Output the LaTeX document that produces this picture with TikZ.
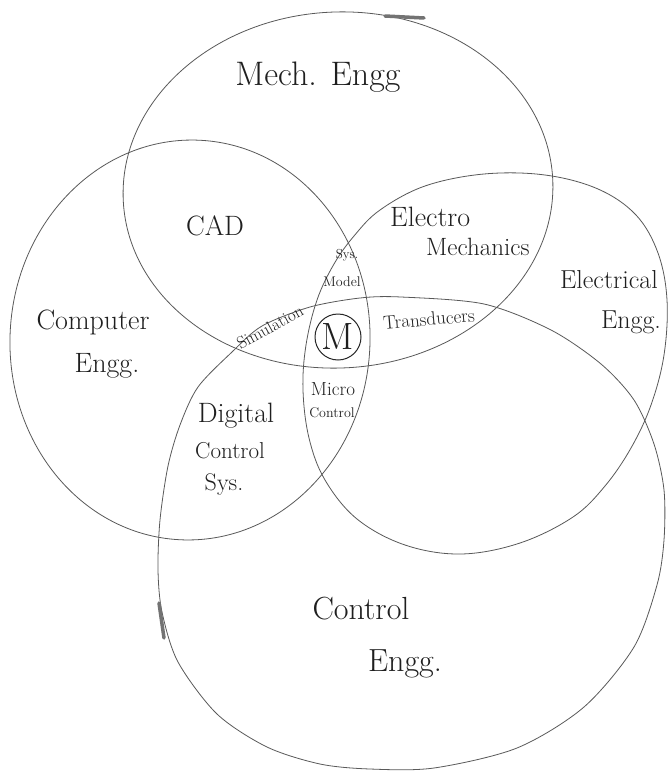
\documentclass[tikz,border=0pt]{standalone}
\usepackage{fontspec}
\newcommand{\lblsize}[1]{\fontsize{#1}{#1}\selectfont}
\tikzset{
  ring/.style={draw=black!65, line width=0.8pt},
  lbl/.style={text=black!88, inner sep=0pt, anchor=center},
  smudge/.style={draw=black!55, line width=3.5pt, line cap=round},
}
\begin{document}
\begin{tikzpicture}[x=1pt,y=-1pt]
\useasboundingbox (0,0) rectangle (668,771);
\fill[white] (0,0) rectangle (668,771);

% Mech. Engg
\draw[ring, rotate around={3:(338,190)}] (338,190) ellipse [x radius=215pt, y radius=178pt];
% Computer Engg
\draw[ring, rotate around={-3:(190,340)}] (190,340) ellipse [x radius=180pt, y radius=200pt];
% Electrical Engg
\draw[ring] plot[smooth cycle, tension=0.6] coordinates {
 (484,174) (545,175) (598,189) (636,215) (658,253) (667,300) (664,355) (651,405)
 (631,448) (605,486) (573,517) (520,543) (461,554) (405,545) (357,519) (325,480)
 (309,438) (303,390) (306,345) (317,300) (334,264) (354,236) (380,210) (425,186)};
% Control Engg
\draw[ring] plot[smooth cycle] coordinates {
 (401,297) (484,304) (551,330) (601,364) (634,400) (654,444) (664,490) (664,540)
 (657,585) (634,647) (584,707) (517,748) (434,768) (370,769) (320,764) (267,747)
 (217,714) (178,662) (162,612) (158,570) (160,520) (168,466) (180,425) (198,387)
 (232,352) (262,326) (310,307) (360,298)};

% pencil smudges
\draw[smudge] (385,16) -- (424,18);
\draw[smudge] (159,603) -- (164,638);

% labels
\node[lbl, font=\lblsize{34}] (mech) at (318,77) {Mech. Engg};
\node[lbl, font=\lblsize{28}] (cad) at (215,226) {CAD};
\node[lbl, font=\lblsize{28}, anchor=west] (electro) at (390,217) {Electro};
\node[lbl, font=\lblsize{25}, anchor=west] (mechanics) at (426,247) {Mechanics};
\node[lbl, font=\lblsize{28}] (computer) at (93,322) {Computer};
\node[lbl, font=\lblsize{28}] (cengg) at (107,366) {Engg.};
\node[lbl, font=\lblsize{26}] (electrical) at (609,280) {Electrical};
\node[lbl, font=\lblsize{26}] (eengg) at (631,322) {Engg.};
\node[lbl, font=\lblsize{13}] (sys) at (347,255) {Sys.};
\node[lbl, font=\lblsize{14}] (model) at (342,282) {Model};
\node[draw=black!85, line width=1pt, circle, minimum size=46pt, inner sep=0pt,
      text=black!88, font=\lblsize{38}] (m) at (338,337) {M};
\node[lbl, font=\lblsize{19}, rotate=5] (transducers) at (429,319) {Transducers};
\node[lbl, font=\lblsize{17}, rotate=29] (simulation) at (270,327) {Simulation};
\node[lbl, font=\lblsize{19}] (micro) at (333,389) {Micro};
\node[lbl, font=\lblsize{14}] (mcontrol) at (332,413) {Control};
\node[lbl, font=\lblsize{28}] (digital) at (236,416) {Digital};
\node[lbl, font=\lblsize{23}] (dcontrol) at (230,451) {Control};
\node[lbl, font=\lblsize{24}] (dsys) at (224,485) {Sys.};
\node[lbl, font=\lblsize{32}] (control) at (361,609) {Control};
\node[lbl, font=\lblsize{32}] (cengg2) at (405,664) {Engg.};
\end{tikzpicture}
\end{document}
